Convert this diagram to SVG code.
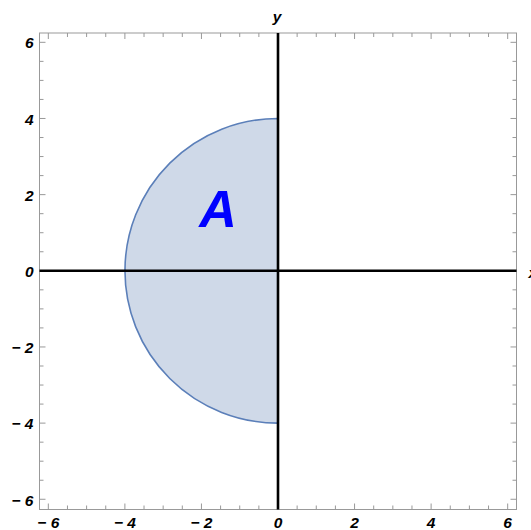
<svg xmlns="http://www.w3.org/2000/svg" width="531" height="530" viewBox="0 0 531 530">
<style>
.lbl{font-family:"Liberation Sans",Arial,sans-serif;font-weight:bold;font-style:italic;font-size:15.5px;fill:#000}
.tk{stroke:#999;stroke-width:1;fill:none}
.ax{stroke:#000;stroke-width:2.6;fill:none}
</style>
<rect width="531" height="530" fill="#fff"/>
<g id="region">
<path d="M 278 118.48 A 153.12 152.32 0 0 0 278 423.12 Z" fill="#cfd9e8" stroke="#5b7fb9" stroke-width="1.6"/>
<text x="218" y="227" font-family="Liberation Sans,Arial,sans-serif" font-weight="bold" font-style="italic" font-size="52" fill="#0000ff" text-anchor="middle">A</text>
</g>
<g id="frame">
<rect x="39.5" y="33" width="477" height="476.5" class="tk"/>
<path class="tk" d="M48.32 509.5v-6M67.46 509.5v-4M86.6 509.5v-4M105.74 509.5v-4M124.88 509.5v-6M144.02 509.5v-4M163.16 509.5v-4M182.3 509.5v-4M201.44 509.5v-6M220.58 509.5v-4M239.72 509.5v-4M258.86 509.5v-4M278 509.5v-6M297.14 509.5v-4M316.28 509.5v-4M335.42 509.5v-4M354.56 509.5v-6M373.7 509.5v-4M392.84 509.5v-4M411.98 509.5v-4M431.12 509.5v-6M450.26 509.5v-4M469.4 509.5v-4M488.54 509.5v-4M507.68 509.5v-6
M48.32 33v6M67.46 33v4M86.6 33v4M105.74 33v4M124.88 33v6M144.02 33v4M163.16 33v4M182.3 33v4M201.44 33v6M220.58 33v4M239.72 33v4M258.86 33v4M278 33v6M297.14 33v4M316.28 33v4M335.42 33v4M354.56 33v6M373.7 33v4M392.84 33v4M411.98 33v4M431.12 33v6M450.26 33v4M469.4 33v4M488.54 33v4M507.68 33v6
M39.5 42.32h6M39.5 61.36h4M39.5 80.4h4M39.5 99.44h4M39.5 118.48h6M39.5 137.52h4M39.5 156.56h4M39.5 175.6h4M39.5 194.64h6M39.5 213.68h4M39.5 232.72h4M39.5 251.76h4M39.5 270.8h6M39.5 289.84h4M39.5 308.88h4M39.5 327.92h4M39.5 346.96h6M39.5 366h4M39.5 385.04h4M39.5 404.08h4M39.5 423.12h6M39.5 442.16h4M39.5 461.2h4M39.5 480.24h4M39.5 499.28h6
M516.5 42.32h-6M516.5 61.36h-4M516.5 80.4h-4M516.5 99.44h-4M516.5 118.48h-6M516.5 137.52h-4M516.5 156.56h-4M516.5 175.6h-4M516.5 194.64h-6M516.5 213.68h-4M516.5 232.72h-4M516.5 251.76h-4M516.5 270.8h-6M516.5 289.84h-4M516.5 308.88h-4M516.5 327.92h-4M516.5 346.96h-6M516.5 366h-4M516.5 385.04h-4M516.5 404.08h-4M516.5 423.12h-6M516.5 442.16h-4M516.5 461.2h-4M516.5 480.24h-4M516.5 499.28h-6"/>
</g>
<g id="axes">
<path class="ax" d="M39.5 270.8H516.5M278 33V509.5"/>
</g>
<g id="labels">
<text class="lbl" x="33.5" y="48.3" text-anchor="end">6</text>
<text class="lbl" x="33.5" y="124.8" text-anchor="end">4</text>
<text class="lbl" x="33.5" y="200.9" text-anchor="end">2</text>
<text class="lbl" x="33.5" y="277" text-anchor="end">0</text>
<text class="lbl" x="33.5" y="353.2" text-anchor="end">− 2</text>
<text class="lbl" x="33.5" y="429.4" text-anchor="end">− 4</text>
<text class="lbl" x="33.5" y="505.5" text-anchor="end">− 6</text>
<text class="lbl" x="48.32" y="528" text-anchor="middle">− 6</text>
<text class="lbl" x="124.88" y="528" text-anchor="middle">− 4</text>
<text class="lbl" x="201.44" y="528" text-anchor="middle">− 2</text>
<text class="lbl" x="278" y="528" text-anchor="middle">0</text>
<text class="lbl" x="354.56" y="528" text-anchor="middle">2</text>
<text class="lbl" x="431.12" y="528" text-anchor="middle">4</text>
<text class="lbl" x="507.68" y="528" text-anchor="middle">6</text>
<text class="lbl" x="277" y="22" text-anchor="middle">y</text>
<text class="lbl" x="528.5" y="277.5">x</text>
</g>
</svg>
